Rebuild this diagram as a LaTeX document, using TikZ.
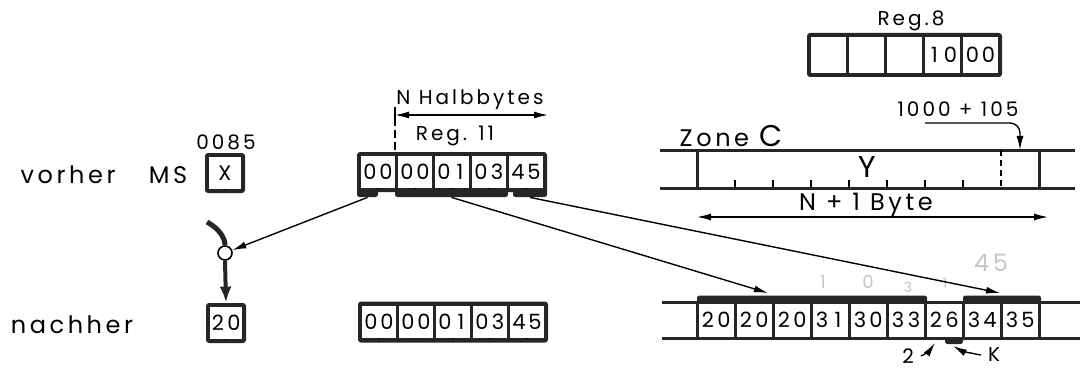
\documentclass[tikz,border=0pt]{standalone}
\usepackage{fontspec}
\setmainfont{Poppins}[LetterSpace=15]
\usetikzlibrary{arrows.meta}
\newcommand{\dg}[2]{\makebox[8pt]{#1}\makebox[8pt]{#2}}

\begin{document}
\begin{tikzpicture}[x=0.5pt, y=-0.5pt,
  frame/.style={fill=black!85, rounded corners=1.5pt, inner sep=0pt},
  bar/.style={fill=black!85, rounded corners=1.2pt, inner sep=0pt},
  cell/.style={fill=white, inner sep=0pt, minimum width=17pt, minimum height=16pt,
               font=\fontsize{10.5}{11}\selectfont,
               path picture={\draw[line width=0.6pt] (path picture bounding box.south) -- ++(0,8);}},
  dcell/.style={cell, draw=black!85, line width=1.5pt, minimum width=19pt, minimum height=18pt},
  zline/.style={line width=1.5pt, black!85},
  tick/.style={line width=0.7pt},
  label/.style={font=\fontsize{12}{13}\selectfont},
  note/.style={font=\fontsize{10}{11}\selectfont},
  pencil/.style={font=\fontsize{9}{10}\selectfont, text=gray!45},
  arr/.style={line width=0.7pt, -{Latex[length=7pt, width=3.5pt]}},
  darr/.style={line width=0.7pt, {Latex[length=7pt, width=3.5pt]}-{Latex[length=7pt, width=3.5pt]}},
  junct/.style={circle, draw, fill=white, line width=0.8pt, minimum size=7pt, inner sep=0pt},
]
\useasboundingbox (0,0) rectangle (1081,369);

% row labels
\node[label] (vor) at (68,175) {vorher};
\node[label] (nach) at (72,325) {nachher};
\node[label] (ms) at (168,175) {MS};
\node[note] (adr) at (226,142) {0085};

% MS before / after
\node[frame, minimum width=20pt, minimum height=20pt] (msa) at (225,173) {};
\node[cell, minimum width=16pt] (msac) at (225,173) {X};
\node[frame, minimum width=20pt, minimum height=20pt] (msb) at (226,323) {};
\node[cell, minimum width=16pt] (msbc) at (226,323) {\dg20};

% junction
\coordinate (ctop) at (207,222);
\node[junct] (jn) at (225,253) {};
\draw[line width=2.5pt, black!85] (ctop) .. controls (218,228) and (225,237) .. (jn.north);
\draw[line width=2pt, black!85, -{Latex[length=8pt, width=6pt]}] (jn.south) -- (msb.north);

% Reg. 11 before
\node[note] (nhb) at (470,100) {N Halbbytes};
\node[note] (r11t) at (455,136) {Reg. 11};
\node[bar, minimum width=10.5pt, minimum height=5pt] (bl) at (367.5,192) {};
\node[bar, minimum width=56.5pt, minimum height=5pt] (bm) at (451.5,192) {};
\node[bar, minimum width=17pt, minimum height=5pt] (br) at (530,192) {};
\node[frame, minimum width=95pt, minimum height=20pt] (r11) at (452,172) {};
\node[cell] (r11c1) at (378,172) {\dg00};
\node[cell] (r11c2) at (415,172) {\dg00};
\node[cell] (r11c3) at (452,172) {\dg01};
\node[cell] (r11c4) at (489,172) {\dg03};
\node[cell] (r11c5) at (526,172) {\dg45};
\draw[line width=0.6pt, dash pattern=on 4pt off 2pt] (395,118) -- (r11.north -| 395,0);
\draw[line width=0.7pt] (395,107) -- (395,123);
\draw[darr] (395,115) -- (548,115);

% Reg. 11 after
\node[frame, minimum width=95pt, minimum height=20.5pt] (r11b) at (453,322) {};
\node[cell] (r11bc1) at (379,322) {\dg00};
\node[cell] (r11bc2) at (416,322) {\dg00};
\node[cell] (r11bc3) at (453,322) {\dg01};
\node[cell] (r11bc4) at (490,322) {\dg03};
\node[cell] (r11bc5) at (527,322) {\dg45};

% Reg. 8
\node[note] (r8t) at (911,21) {Reg.8};
\node[frame, minimum width=97.5pt, minimum height=22pt] (r8) at (904.5,55) {};
\node[cell, minimum width=17.5pt, minimum height=18pt] (r8c1) at (828.5,55) {};
\node[cell, minimum width=17.5pt, minimum height=18pt] (r8c2) at (866.5,55) {};
\node[cell, minimum width=17.5pt, minimum height=18pt] (r8c3) at (904.5,55) {};
\node[cell, minimum width=17.5pt, minimum height=18pt] (r8c4) at (942.5,55) {\dg10};
\node[cell, minimum width=17.5pt, minimum height=18pt] (r8c5) at (980.5,55) {\dg00};

% Zone C
\node[label] (zc) at (731,136) {Zone {\fontsize{15}{15}\selectfont C}};
\node[note] (ofs) at (958,109) {1000 + 105};
\coordinate (cref) at (925,123);
\coordinate (cpos) at (1020,150);
\draw[zline] (660,150) -- (1075,150);
\draw[zline] (660,188) -- (1075,188);
\draw[zline] (697,150) -- (697,188);
\draw[zline] (1039,150) -- (1039,188);
\draw[tick] (735,188) -- (735,180);
\draw[tick] (773,188) -- (773,180);
\draw[tick] (811,188) -- (811,180);
\draw[tick] (849,188) -- (849,180);
\draw[tick] (887,188) -- (887,180);
\draw[tick] (925,188) -- (925,180);
\draw[tick] (963,188) -- (963,180);
\draw[tick, dash pattern=on 3pt off 2pt] (1001,150) -- (1001,188);
\node[font=\fontsize{15}{15}\selectfont] (yy) at (867,167) {Y};
\draw[arr, rounded corners=5pt] (cref) -| (cpos);
\node[label] (nb) at (866,205) {N + 1 Byte};
\draw[darr] (697,217) -- (1048,217);

% Zone D
\draw[zline] (662,302) -- (1080,302);
\draw[zline] (662,338) -- (1080,338);
\node[bar, minimum width=115pt, minimum height=4.5pt] (dbl) at (812,300) {};
\node[bar, minimum width=39pt, minimum height=4.5pt] (dbr) at (1002,300) {};
\node[bar, minimum width=9pt, minimum height=4pt] (kb) at (954,340) {};
\node[dcell] (d1) at (716,320) {\dg20};
\node[dcell] (d2) at (754,320) {\dg20};
\node[dcell] (d3) at (792,320) {\dg20};
\node[dcell] (d4) at (830,320) {\dg31};
\node[dcell] (d5) at (868,320) {\dg30};
\node[dcell] (d6) at (906,320) {\dg33};
\node[dcell] (d7) at (944,320) {\dg26};
\node[dcell] (d8) at (982,320) {\dg34};
\node[dcell] (d9) at (1020,320) {\dg35};
\coordinate (t1) at (768,293);
\coordinate (t2) at (1000,293);

% pencil notes
\node[pencil] (p1) at (823,282) {1};
\node[pencil] (p2) at (868,282) {0};
\node[pencil, font=\fontsize{7}{8}\selectfont] (p3) at (908,287) {3};
\node[pencil, font=\fontsize{7}{8}\selectfont] (p4) at (945,283) {1};
\node[pencil, font=\fontsize{12}{12}\selectfont] (p5) at (991,263) {45};

% transfers
\draw[arr] (bl.south) -- (jn);
\draw[arr] (bm.south) -- (t1);
\draw[arr] (br.south) -- (t2);

% pointers below
\node[note] (l2) at (908,356) {2};
\node[note] (lk) at (994,355) {K};
\coordinate (c2) at (935,343);
\coordinate (ck) at (953,346);
\draw[arr] (l2.east) .. controls (924,355) and (930,350) .. (c2);
\draw[arr] (lk.west) .. controls (975,354) and (962,351) .. (ck);

\end{tikzpicture}
\end{document}
